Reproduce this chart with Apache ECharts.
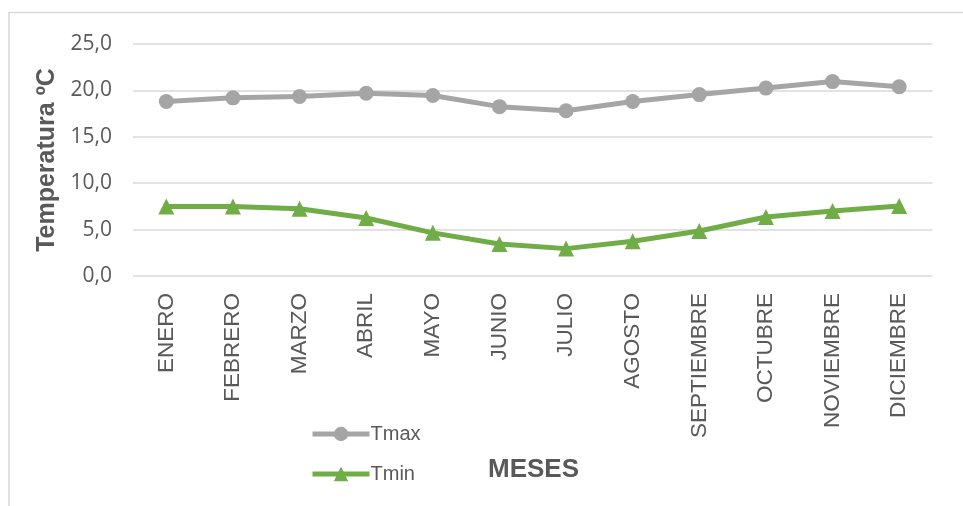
<!DOCTYPE html>
<html>
<head>
<meta charset="utf-8">
<script src="https://cdn.jsdelivr.net/npm/echarts@6/dist/echarts.min.js"></script>
<style>
  html, body { margin: 0; padding: 0; background: #ffffff; }
  #chart { width: 963px; height: 506px; }
</style>
</head>
<body>
<div id="chart"></div>
<script>
// Monthly mean temperatures (°C)
const meses = ['ENERO', 'FEBRERO', 'MARZO', 'ABRIL', 'MAYO', 'JUNIO', 'JULIO',
  'AGOSTO', 'SEPTIEMBRE', 'OCTUBRE', 'NOVIEMBRE', 'DICIEMBRE'];
const tmax = [18.8, 19.2, 19.35, 19.7, 19.45, 18.25, 17.8, 18.8, 19.55, 20.25, 20.95, 20.4];
const tmin = [7.5, 7.5, 7.25, 6.25, 4.65, 3.45, 2.95, 3.75, 4.85, 6.35, 7.0, 7.55];
const yTicks = [0, 5, 10, 15, 20, 25];

const TEXT = '#595959';
const GRID = '#d9d9d9';

const chart = echarts.init(document.getElementById('chart'), null, { renderer: 'canvas' });

chart.setOption({
  animation: false,
  backgroundColor: '#ffffff',
  grid: { left: 133, right: 30.5, top: 44, height: 232, containLabel: false },
  graphic: [{
    type: 'polyline',
    shape: { points: [[9, 506], [9, 12.5], [963, 12.5]] },
    style: { stroke: GRID, lineWidth: 1.6, fill: null },
    silent: true
  }, {
    type: 'text',
    left: 488,
    top: 457,
    style: { text: 'MESES', fill: TEXT, font: 'bold 26px "Liberation Sans", Arial, sans-serif' }
  }],
  legend: {
    orient: 'vertical',
    left: 305,
    top: 419,
    itemWidth: 57,
    itemHeight: 18,
    itemGap: 20,
    lineStyle: { width: 5 },
    textStyle: { color: TEXT, fontSize: 20, fontFamily: '"Liberation Sans", Arial, sans-serif', padding: [0, 0, 0, -4] },
    data: ['Tmax', 'Tmin']
  },
  xAxis: {
    type: 'category',
    data: meses,
    boundaryGap: true,
    axisLine: { show: false },
    axisTick: { show: false },
    axisLabel: {
      rotate: 90,
      margin: 17,
      interval: 0,
      color: TEXT,
      fontSize: 22.5,
      fontFamily: '"Liberation Sans", Arial, sans-serif'
    }
  },
  yAxis: {
    type: 'value',
    min: yTicks[0],
    max: yTicks[yTicks.length - 1],
    interval: yTicks[1] - yTicks[0],
    name: 'Temperatura ºC',
    nameLocation: 'middle',
    nameGap: 73,
    nameRotate: 90,
    nameTextStyle: {
      color: TEXT,
      fontSize: 25,
      fontWeight: 'bold',
      fontFamily: '"Liberation Sans", Arial, sans-serif'
    },
    axisLine: { show: false },
    axisTick: { show: false },
    splitLine: { lineStyle: { color: GRID, width: 1.6 } },
    axisLabel: {
      margin: 21,
      color: TEXT,
      fontSize: 21,
      fontFamily: '"Open Sans", sans-serif',
      formatter: v => v.toFixed(1).replace('.', ',')
    }
  },
  series: [{
    name: 'Tmax',
    type: 'line',
    data: tmax,
    symbol: 'circle',
    symbolSize: 15,
    itemStyle: { color: '#A5A5A5' },
    lineStyle: { color: '#A5A5A5', width: 5 }
  }, {
    name: 'Tmin',
    type: 'line',
    data: tmin,
    symbol: 'triangle',
    symbolSize: 16,
    itemStyle: { color: '#70AD47' },
    lineStyle: { color: '#70AD47', width: 5 }
  }]
});
</script>
</body>
</html>
